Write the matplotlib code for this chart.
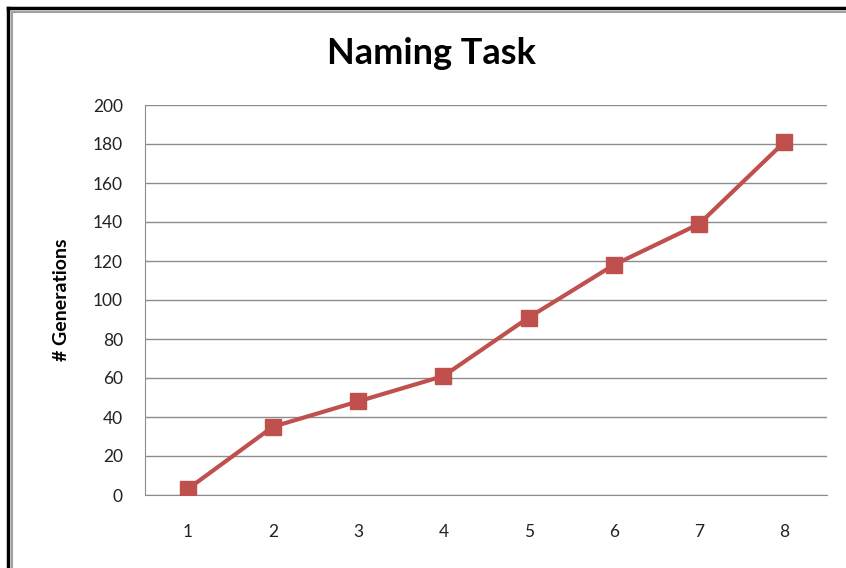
import matplotlib
matplotlib.use("Agg")
import matplotlib.pyplot as plt
from matplotlib.lines import Line2D

plt.rcParams['font.family'] = ['Lato', 'DejaVu Sans']

runs = [1, 2, 3, 4, 5, 6, 7, 8]
generations = [3, 35, 48, 61, 91, 118, 139, 181]
yticks = [0, 20, 40, 60, 80, 100, 120, 140, 160, 180, 200]

W, H = 846, 568
fig = plt.figure(figsize=(W / 100, H / 100), dpi=100)
ax = fig.add_axes([145 / W, 1 - 495 / H, (827 - 145) / W, (495 - 105) / H])

ax.plot(runs, generations, color='#C0504D', lw=3, marker='s', markersize=12,
        markeredgecolor='#C0504D', markerfacecolor='#C0504D', zorder=3)

ax.set_xlim(0.5, 8.5)
ax.set_ylim(0, 200)
ax.set_yticks(yticks)
ax.set_xticks(runs)
ax.grid(axis='y', color='#8c8c8c', lw=1)
ax.set_axisbelow(True)
for s in ['top', 'right']:
    ax.spines[s].set_visible(False)
for s in ['left', 'bottom']:
    ax.spines[s].set_color('#8c8c8c')
ax.tick_params(axis='both', length=0, labelsize=12.5, colors='#222222')
ax.tick_params(axis='y', pad=16)
ax.tick_params(axis='x', pad=21)

ax.set_ylabel('# Generations', fontsize=14, fontweight='bold', labelpad=16)
fig.text(431 / W, 1 - 53 / H, 'Naming Task', ha='center', va='center',
         fontsize=26, fontweight='bold')

# chart frame (cropped on right and bottom)
def px(x0, y0, x1, y1, **kw):
    fig.add_artist(Line2D([x0 / W, x1 / W], [1 - y0 / H, 1 - y1 / H],
                          transform=fig.transFigure, **kw))

px(8, 8, W, 8, color='black', lw=2.5)
px(8, 8, 8, H, color='black', lw=2.5)
px(12, 11.5, W, 11.5, color='#a0a0a0', lw=1.5)
px(12, 11.5, 12, H, color='#a0a0a0', lw=1.5)

fig.savefig('out.png', dpi=100)
